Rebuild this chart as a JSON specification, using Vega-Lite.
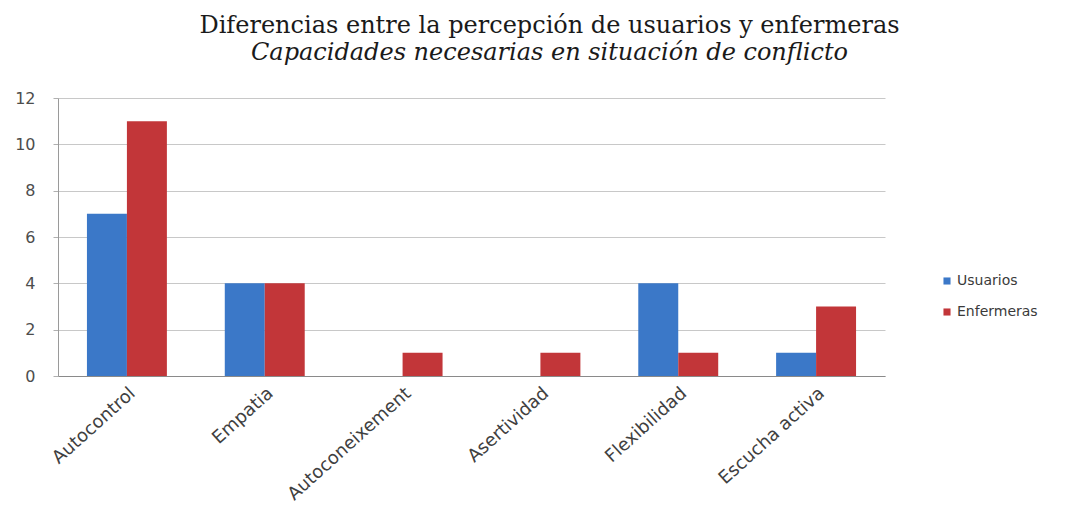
{
  "$schema": "https://vega.github.io/schema/vega-lite/v6.json",
  "width": 827,
  "height": 278,
  "autosize": {"type": "none"},
  "padding": {"left": 58, "top": 98, "right": 186, "bottom": 133},
  "background": "white",
  "title": {
    "text": "Diferencias entre la percepción de usuarios y  enfermeras",
    "subtitle": "Capacidades necesarias en situación de conflicto",
    "anchor": "middle",
    "dx": 78,
    "offset": 25,
    "font": "DejaVu Serif",
    "fontSize": 24,
    "fontWeight": "normal",
    "color": "#1a1a1a",
    "subtitleFont": "DejaVu Serif",
    "subtitleFontSize": 24,
    "subtitleFontStyle": "italic",
    "subtitleColor": "#1a1a1a",
    "subtitlePadding": 3
  },
  "data": {
    "values": [
      {"categoria": "Autocontrol", "serie": "Usuarios", "valor": 7},
      {"categoria": "Autocontrol", "serie": "Enfermeras", "valor": 11},
      {"categoria": "Empatia", "serie": "Usuarios", "valor": 4},
      {"categoria": "Empatia", "serie": "Enfermeras", "valor": 4},
      {"categoria": "Autoconeixement", "serie": "Usuarios", "valor": 0},
      {"categoria": "Autoconeixement", "serie": "Enfermeras", "valor": 1},
      {"categoria": "Asertividad", "serie": "Usuarios", "valor": 0},
      {"categoria": "Asertividad", "serie": "Enfermeras", "valor": 1},
      {"categoria": "Flexibilidad", "serie": "Usuarios", "valor": 4},
      {"categoria": "Flexibilidad", "serie": "Enfermeras", "valor": 1},
      {"categoria": "Escucha activa", "serie": "Usuarios", "valor": 1},
      {"categoria": "Escucha activa", "serie": "Enfermeras", "valor": 3}
    ]
  },
  "mark": {"type": "bar", "stroke": null},
  "encoding": {
    "x": {
      "field": "categoria",
      "type": "nominal",
      "sort": ["Autocontrol", "Empatia", "Autoconeixement", "Asertividad", "Flexibilidad", "Escucha activa"],
      "scale": {"paddingInner": 0.42, "paddingOuter": 0.21},
      "axis": {
        "title": null,
        "labelAngle": -42,
        "labelAlign": "right",
        "labelBaseline": "top",
        "labelFont": "DejaVu Sans",
        "labelFontSize": 18,
        "labelColor": "#404040",
        "labelPadding": 8,
        "domainColor": "#8a8a8a",
        "ticks": false,
        "grid": false
      }
    },
    "xOffset": {"field": "serie", "type": "nominal", "sort": ["Usuarios", "Enfermeras"]},
    "y": {
      "field": "valor",
      "type": "quantitative",
      "scale": {"domain": [0, 12]},
      "axis": {
        "title": null,
        "values": [0, 2, 4, 6, 8, 10, 12],
        "labelFont": "DejaVu Sans",
        "labelFontSize": 16,
        "labelColor": "#4d4d4d",
        "labelPadding": 18,
        "tickSize": 5,
        "tickColor": "#b0b0b0",
        "domainColor": "#9a9a9a",
        "gridColor": "#c8c8c8",
        "grid": true
      }
    },
    "color": {
      "field": "serie",
      "type": "nominal",
      "sort": ["Usuarios", "Enfermeras"],
      "scale": {"domain": ["Usuarios", "Enfermeras"], "range": ["#3b78c8", "#c23639"]},
      "legend": {
        "title": null,
        "orient": "none",
        "legendX": 882,
        "legendY": 176,
        "symbolType": "square",
        "symbolSize": 50,
        "labelFont": "DejaVu Sans",
        "labelFontSize": 14,
        "labelColor": "#3a3a3a",
        "labelOffset": 3,
        "rowPadding": 17
      }
    }
  },
  "config": {"view": {"stroke": null}}
}
